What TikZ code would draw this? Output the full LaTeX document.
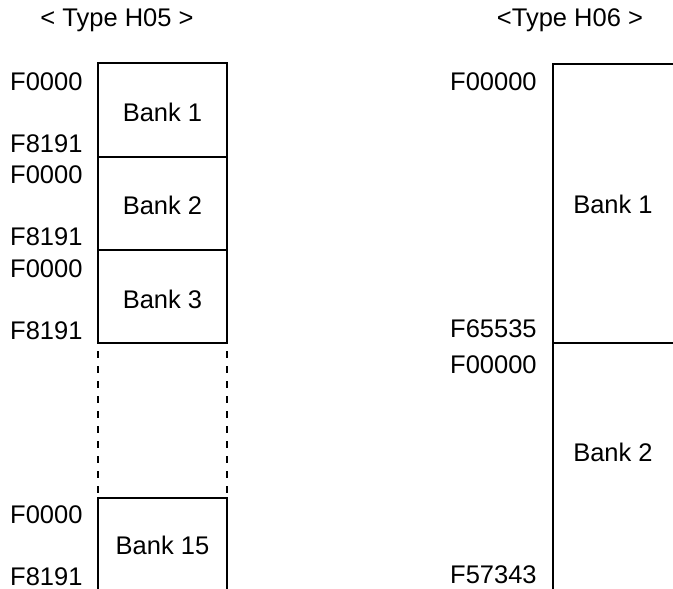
\documentclass[tikz,border=0pt]{standalone}
\usepackage{fontspec}
\setmainfont{Liberation Sans}
\usetikzlibrary{positioning}
\tikzset{
  addr/.style={anchor=base west, inner sep=0pt},
  bank/.style={anchor=base, inner sep=0pt},
  wall/.style={line width=1.6pt},
  gap/.style={line width=1.6pt, dash pattern=on 7pt off 8pt, dash phase=7pt},
}
\begin{document}
\begin{tikzpicture}[x=1pt, y=-1pt, font=\fontsize{25.5}{30}\selectfont]
	\useasboundingbox (0,0) rectangle (673,589);
	% Titles:
	\node[bank] (t05) at (117,27){< Type H05 >};
	\node[bank] (t06) at (570,27){<Type H06 >};
	% Corners, left column:
	\coordinate (l0w) at (98,63);  \coordinate (l0e) at (227,63);
	\coordinate (l1w) at (98,157); \coordinate (l1e) at (227,157);
	\coordinate (l2w) at (98,250); \coordinate (l2e) at (227,250);
	\coordinate (l3w) at (98,343); \coordinate (l3e) at (227,343);
	\coordinate (l4w) at (98,498); \coordinate (l4e) at (227,498);
	\coordinate (l5w) at (98,589); \coordinate (l5e) at (227,589);
	% Corners, right column:
	\coordinate (r0w) at (553,64);  \coordinate (r0e) at (673,64);
	\coordinate (r1w) at (553,343); \coordinate (r1e) at (673,343);
	\coordinate (r2w) at (553,589);
	% Walls:
	\draw[wall] (l0w) rectangle (l3e);
	\draw[wall] (l1w) -- (l1e);
	\draw[wall] (l2w) -- (l2e);
	\draw[gap] (l3w) -- (l4w);
	\draw[gap] (l3e) -- (l4e);
	\draw[wall] (l5w) -- (l4w) -- (l4e) -- (l5e);
	\draw[wall] (r0e) -- (r0w) -- (r2w);
	\draw[wall] (r1w) -- (r1e);
	% Banks:
	\node[bank] (b1) at (162.5,121){Bank 1};
	\node[bank] (b2) at (162.5,214.5){Bank 2};
	\node[bank] (b3) at (162.5,308){Bank 3};
	\node[bank] (b15) at (162.5,554){Bank 15};
	\node[bank] (c1) at (613,213){Bank 1};
	\node[bank] (c2) at (613,461){Bank 2};
	% Addresses:
	\node[addr] (a1s) at (10,90){F0000};
	\node[addr] (a1e) at (10,152){F8191};
	\node[addr] (a2s) at (10,183.5){F0000};
	\node[addr] (a2e) at (10,245.5){F8191};
	\node[addr] (a3s) at (10,277){F0000};
	\node[addr] (a3e) at (10,339){F8191};
	\node[addr] (a15s) at (10,523){F0000};
	\node[addr] (a15e) at (10,585){F8191};
	\node[addr] (d1s) at (450,90){F00000};
	\node[addr] (d1e) at (450,337){F65535};
	\node[addr] (d2s) at (450,373){F00000};
	\node[addr] (d2e) at (450,583){F57343};
\end{tikzpicture}
\end{document}
